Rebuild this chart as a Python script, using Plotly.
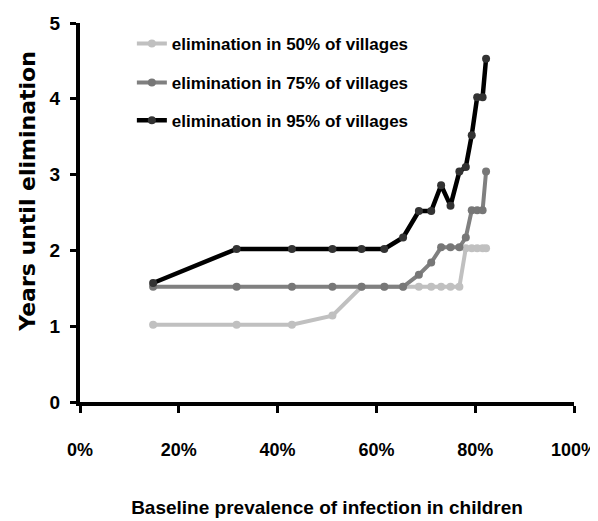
import plotly.graph_objects as go

# baseline prevalence of infection in children (%)
prevalence = [14.8, 31.7, 42.9, 51.1, 57.0, 61.6, 65.4, 68.6, 71.1, 73.1,
              75.0, 76.8, 78.1, 79.3, 80.4, 81.5, 82.2]

# years until elimination
elim_50 = [1.02, 1.02, 1.02, 1.14, 1.52, 1.52, 1.52, 1.52, 1.52, 1.52,
           1.52, 1.52, 2.03, 2.03, 2.03, 2.03, 2.03]
elim_75 = [1.52, 1.52, 1.52, 1.52, 1.52, 1.52, 1.52, 1.68, 1.84, 2.04,
           2.04, 2.04, 2.17, 2.53, 2.53, 2.53, 3.04]
elim_95 = [1.57, 2.02, 2.02, 2.02, 2.02, 2.02, 2.17, 2.52, 2.52, 2.86,
           2.59, 3.04, 3.10, 3.52, 4.02, 4.02, 4.53]

x_ticks = [0, 20, 40, 60, 80, 100]
y_ticks = [0, 1, 2, 3, 4, 5]

NARROW = "Liberation Sans Narrow, Arial Narrow, Liberation Sans, sans-serif"

series = [
    ("elimination in 50% of villages", elim_50, "#c0c0c0", "#c0c0c0", "legend"),
    ("elimination in 75% of villages", elim_75, "#808080", "#777777", "legend2"),
    ("elimination in 95% of villages", elim_95, "#000000", "#333333", "legend3"),
]

fig = go.Figure()
for name, ys, line_color, marker_color, leg in series:
    fig.add_trace(
        go.Scatter(
            x=prevalence,
            y=ys,
            mode="lines+markers",
            name=name,
            legend=leg,
            line=dict(color=line_color, width=4.5 if leg == "legend3" else 4),
            marker=dict(color=marker_color, size=8),
        )
    )

legend_font = dict(family=NARROW, size=17, color="black", weight="bold")
legend_common = dict(
    x=0.105,
    xanchor="left",
    yanchor="middle",
    bgcolor="rgba(0,0,0,0)",
    borderwidth=0,
    font=legend_font,
)

# the page body adds an 8px offset, so the margins are shifted to compensate
fig.update_layout(
    width=598,
    height=521,
    margin=dict(l=72, r=32, t=15, b=127, autoexpand=False),
    plot_bgcolor="white",
    paper_bgcolor="white",
    showlegend=True,
    legend=dict(y=0.945, **legend_common),
    legend2=dict(y=0.842, **legend_common),
    legend3=dict(y=0.742, **legend_common),
)

fig.update_xaxes(
    range=[0, 100],
    tickvals=x_ticks,
    ticktext=[f"{v}%" for v in x_ticks],
    showgrid=False,
    zeroline=False,
    showline=True,
    linecolor="black",
    linewidth=4,
    ticks="outside",
    ticklen=7,
    tickwidth=3,
    tickcolor="black",
    ticklabelstandoff=21,
    ticklabeloverflow="allow",
    tickfont=dict(family=NARROW, size=18, color="black", weight="bold"),
    title=dict(
        text="Baseline prevalence of infection in children",
        font=dict(family=NARROW, size=19, color="black", weight="bold"),
        standoff=43,
    ),
)
fig.update_yaxes(
    range=[0, 5],
    tickvals=y_ticks,
    showgrid=False,
    zeroline=False,
    showline=True,
    linecolor="black",
    linewidth=4,
    ticks="outside",
    ticklen=6,
    tickwidth=3,
    tickcolor="black",
    ticklabelstandoff=6,
    tickfont=dict(family=NARROW, size=19, color="black", weight="bold"),
)

fig.add_annotation(
    text="Years until elimination",
    textangle=-90,
    xref="paper",
    yref="paper",
    x=-0.105,
    y=0.555,
    xanchor="center",
    yanchor="middle",
    showarrow=False,
    font=dict(family="DejaVu Sans", size=22, color="black", weight="bold"),
)

fig.write_html("out.html")
